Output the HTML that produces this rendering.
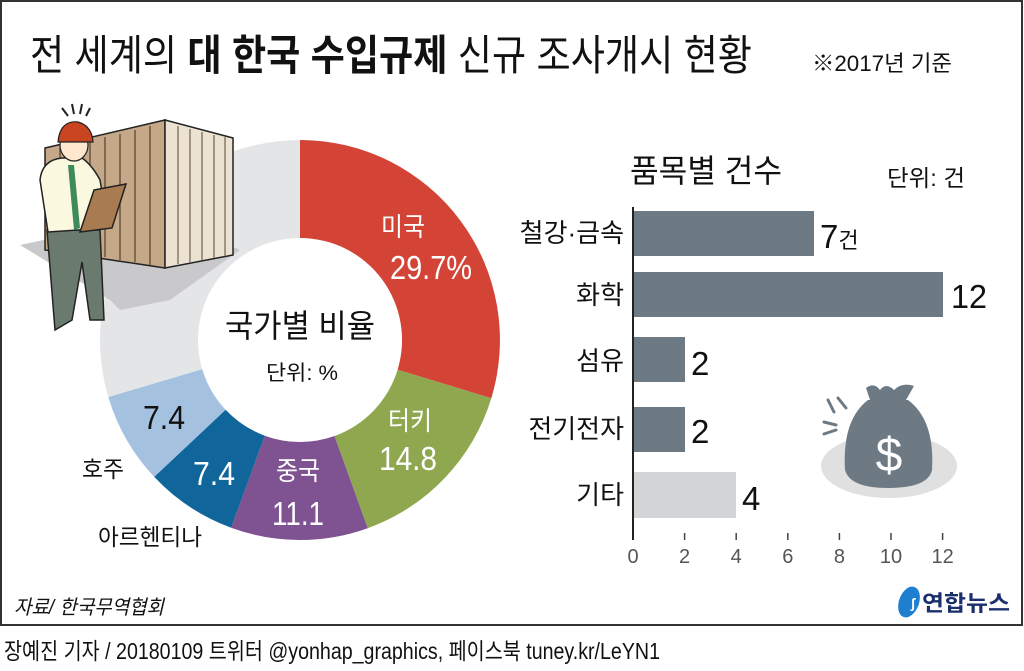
<!DOCTYPE html>
<html><head><meta charset="utf-8"><style>
html,body{margin:0;padding:0;background:#fff;}
svg{display:block;}
text{font-family:"Liberation Sans","Noto Sans CJK KR",sans-serif;}
</style></head><body>
<svg width="1024" height="671" viewBox="0 0 1024 671" xmlns="http://www.w3.org/2000/svg">
<rect x="0" y="0" width="1024" height="671" fill="#fff"/>
<rect x="1" y="1" width="1021" height="624" fill="#fff" stroke="#333" stroke-width="2"/>

<text x="30" y="70" font-size="42" fill="#111" textLength="722" lengthAdjust="spacingAndGlyphs">전 세계의 <tspan font-weight="bold">대 한국 수입규제</tspan> 신규 조사개시 현황</text>
<text x="812" y="71" font-size="22" fill="#111" textLength="140" lengthAdjust="spacingAndGlyphs">※2017년 기준</text>

<path d="M300,140 A200,200 0 0 1 491.3,398.2 L397.6,369.7 A102,102 0 0 0 300,238 Z" fill="#d34336"/>
<path d="M491.3,398.2 A200,200 0 0 1 367.7,528.2 L334.5,436.0 A102,102 0 0 0 397.6,369.7 Z" fill="#8fa84f"/>
<path d="M367.7,528.2 A200,200 0 0 1 231.1,527.7 L264.8,435.7 A102,102 0 0 0 334.5,436.0 Z" fill="#7f5292"/>
<path d="M231.1,527.7 A200,200 0 0 1 154.2,476.9 L225.6,409.8 A102,102 0 0 0 264.8,435.7 Z" fill="#10669a"/>
<path d="M154.2,476.9 A200,200 0 0 1 108.3,397.0 L202.2,369.1 A102,102 0 0 0 225.6,409.8 Z" fill="#a4c2e0"/>
<path d="M108.3,397.0 A200,200 0 0 1 300,140 L300,238 A102,102 0 0 0 202.2,369.1 Z" fill="#e4e5e7"/>

<polygon points="20,245 160,215 240,250 170,300 120,310 110,300" fill="#c9c9cb"/>
<polygon points="45,148 165,120 165,268 45,250" fill="#c4a888" stroke="#222" stroke-width="1.5"/>
<g stroke="#6b5640" stroke-width="1.5">
<line x1="60" y1="148" x2="60" y2="250"/><line x1="75" y1="144" x2="75" y2="252"/><line x1="90" y1="141" x2="90" y2="255"/><line x1="105" y1="137" x2="105" y2="257"/><line x1="120" y1="134" x2="120" y2="260"/><line x1="135" y1="130" x2="135" y2="262"/><line x1="150" y1="126" x2="150" y2="265"/></g>
<polygon points="165,120 233,138 233,255 165,268" fill="#ece2d2" stroke="#222" stroke-width="1.5"/>
<g stroke="#8a7a66" stroke-width="1.5">
<line x1="178" y1="126" x2="178" y2="264"/><line x1="190" y1="129" x2="190" y2="262"/><line x1="202" y1="132" x2="202" y2="260"/><line x1="214" y1="135" x2="214" y2="258"/><line x1="225" y1="137" x2="225" y2="256"/></g>
<polygon points="47,230 100,230 104,320 90,320 82,262 72,320 55,330" fill="#6a7a6e" stroke="#222" stroke-width="1.5"/>
<path d="M40,180 Q42,160 62,158 L82,158 Q92,165 100,180 L108,228 L48,232 Z" fill="#fbf8e0" stroke="#222" stroke-width="1.5"/>
<polygon points="68,165 74,165 80,228 74,230" fill="#3f8a5a"/>
<polygon points="94,190 126,184 112,228 80,232" fill="#a87b50" stroke="#222" stroke-width="1.5"/>
<ellipse cx="74" cy="145" rx="14" ry="16" fill="#fde8cf" stroke="#222" stroke-width="1.2"/>
<path d="M58,142 Q60,120 78,122 Q92,126 93,142 Z" fill="#c8451f" stroke="#222" stroke-width="1.2"/>
<g stroke="#222" stroke-width="2"><line x1="62" y1="108" x2="68" y2="116"/><line x1="72" y1="104" x2="74" y2="114"/><line x1="82" y1="104" x2="80" y2="114"/><line x1="90" y1="108" x2="86" y2="116"/></g>

<text x="300" y="337" font-size="32" fill="#111" text-anchor="middle" textLength="150" lengthAdjust="spacingAndGlyphs">국가별 비율</text>
<text x="302" y="380" font-size="21" fill="#111" text-anchor="middle" textLength="72" lengthAdjust="spacingAndGlyphs">단위: %</text>
<text x="403" y="236" font-size="26" fill="#fff" text-anchor="middle" textLength="44" lengthAdjust="spacingAndGlyphs">미국</text>
<text x="431" y="279" font-size="33" fill="#fff" text-anchor="middle" textLength="82" lengthAdjust="spacingAndGlyphs">29.7%</text>
<text x="410" y="430" font-size="26" fill="#fff" text-anchor="middle" textLength="44" lengthAdjust="spacingAndGlyphs">터키</text>
<text x="408" y="470" font-size="33" fill="#fff" text-anchor="middle" textLength="58" lengthAdjust="spacingAndGlyphs">14.8</text>
<text x="298" y="480" font-size="26" fill="#fff" text-anchor="middle" textLength="44" lengthAdjust="spacingAndGlyphs">중국</text>
<text x="298" y="525" font-size="33" fill="#fff" text-anchor="middle" textLength="52" lengthAdjust="spacingAndGlyphs">11.1</text>
<text x="214" y="485" font-size="33" fill="#fff" text-anchor="middle" textLength="42" lengthAdjust="spacingAndGlyphs">7.4</text>
<text x="164" y="429" font-size="33" fill="#111" text-anchor="middle" textLength="42" lengthAdjust="spacingAndGlyphs">7.4</text>
<text x="82" y="477" font-size="23" fill="#111" textLength="42" lengthAdjust="spacingAndGlyphs">호주</text>
<text x="98" y="545" font-size="23" fill="#111" textLength="104" lengthAdjust="spacingAndGlyphs">아르헨티나</text>

<text x="630" y="182" font-size="32" fill="#111" textLength="152" lengthAdjust="spacingAndGlyphs">품목별 건수</text>
<text x="887" y="186" font-size="23" fill="#111" textLength="78" lengthAdjust="spacingAndGlyphs">단위: 건</text>
<rect x="633" y="211" width="181" height="45" fill="#6e7a83"/>
<rect x="633" y="272" width="310" height="45" fill="#6e7a83"/>
<rect x="633" y="337" width="52" height="45" fill="#6e7a83"/>
<rect x="633" y="407" width="52" height="45" fill="#6e7a83"/>
<rect x="633" y="472" width="103" height="46" fill="#d3d4d6"/>
<line x1="633" y1="207" x2="633" y2="540" stroke="#222" stroke-width="2"/>
<g stroke="#444" stroke-width="1.5">
<line x1="684.6" y1="533" x2="684.6" y2="540"/><line x1="736.2" y1="533" x2="736.2" y2="540"/><line x1="787.8" y1="533" x2="787.8" y2="540"/><line x1="839.4" y1="533" x2="839.4" y2="540"/><line x1="891" y1="533" x2="891" y2="540"/><line x1="942.6" y1="533" x2="942.6" y2="540"/></g>
<g font-size="20" fill="#555" text-anchor="middle">
<text x="633" y="563">0</text><text x="684.6" y="563">2</text><text x="736.2" y="563">4</text><text x="787.8" y="563">6</text><text x="839.4" y="563">8</text><text x="891" y="563">10</text><text x="942.6" y="563">12</text></g>
<g font-size="26" fill="#111" text-anchor="end">
<text x="624" y="242">철강·금속</text><text x="624" y="304">화학</text><text x="624" y="370">섬유</text><text x="624" y="438">전기전자</text><text x="624" y="504">기타</text></g>
<g font-size="33" fill="#111">
<text x="820" y="248">7<tspan font-size="22">건</tspan></text><text x="951" y="308" textLength="36" lengthAdjust="spacingAndGlyphs">12</text><text x="691" y="375">2</text><text x="691" y="443">2</text><text x="742" y="510">4</text></g>

<ellipse cx="889" cy="466" rx="68" ry="32" fill="#e0e0e0"/>
<path d="M868,400 Q842,420 845,470 Q850,488 888,488 Q928,488 932,470 Q935,420 908,400 Z" fill="#6e7a83"/>
<path d="M870,400 L866,388 Q874,382 880,390 Q886,382 894,390 Q902,382 914,386 L906,400 Z" fill="#6e7a83"/>
<text x="889" y="471" font-size="48" fill="#fff" text-anchor="middle">$</text>
<g stroke="#6e7a83" stroke-width="3" stroke-linecap="round"><line x1="828" y1="400" x2="834" y2="412"/><line x1="838" y1="398" x2="846" y2="408"/><line x1="824" y1="422" x2="836" y2="425"/><line x1="824" y1="434" x2="836" y2="430"/></g>

<text x="14" y="614" font-size="20" fill="#111" font-style="italic" textLength="150" lengthAdjust="spacingAndGlyphs">자료/ 한국무역협회</text>
<ellipse cx="909" cy="602" rx="10" ry="16" fill="#1e7fd0" transform="rotate(20 909 602)"/>
<text x="913" y="608" font-size="14" fill="#fff" font-weight="bold" text-anchor="middle">ʃ</text>
<text x="922" y="611" font-size="22" fill="#1a2f6b" font-weight="bold" textLength="88" lengthAdjust="spacingAndGlyphs">연합뉴스</text>

<text x="4" y="659" font-size="23" fill="#111" textLength="656" lengthAdjust="spacingAndGlyphs">장예진 기자 / 20180109 트위터 @yonhap_graphics, 페이스북 tuney.kr/LeYN1</text>
</svg>
</body></html>
